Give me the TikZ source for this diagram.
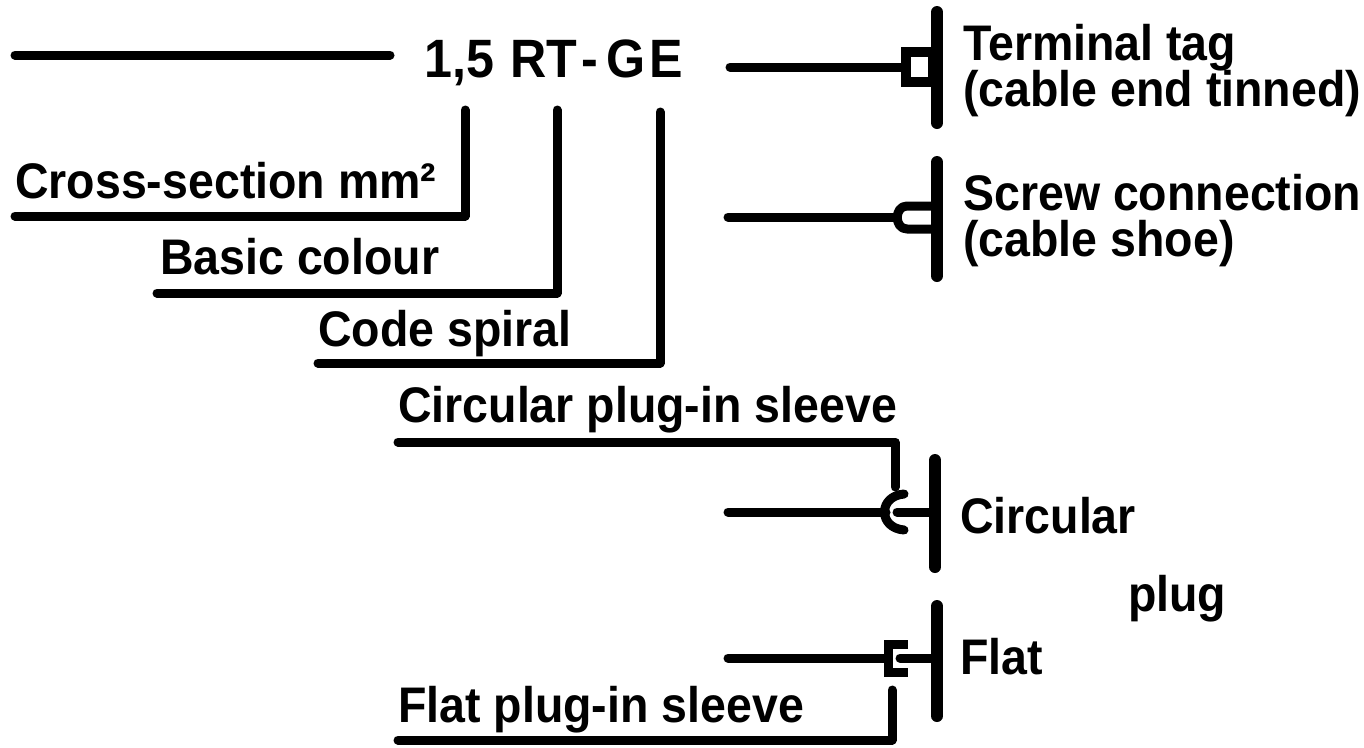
\documentclass[tikz,border=0pt]{standalone}
\usepackage{fontspec}
\setmainfont[FakeStretch=0.93]{Liberation Sans}
\begin{document}
\begin{tikzpicture}[x=1pt,y=-1pt,
  wire/.style={line width=9pt,line cap=round,line join=round},
  bar/.style={line width=12pt,line cap=round},
  lbl/.style={anchor=base west,inner sep=0pt,font=\fontsize{50}{54}\selectfont\bfseries},
  code/.style={anchor=base west,inner sep=0pt,font=\fontsize{54}{58}\selectfont\bfseries},
]
\useasboundingbox (0,0) rectangle (1364,747);

% code line
\node[code] (n15) at (424,77) {1,5};
\node[code] (rt) at (510,77) {RT};
\node[code] (dash) at (581,77) {-};
\node[code] (ge) at (606,77) {G\kern4pt E};
\coordinate (tlA) at (15,55);
\coordinate (tlB) at (390,55);
\draw[wire] (tlA) -- (tlB);

% left labels
\node[lbl] (cs) at (15,198) {Cross-section mm²};
\node[lbl] (bc) at (160,274) {Basic colour};
\node[lbl] (sp) at (318,346) {Code spiral};
\node[lbl] (cps) at (398,422) {Circular plug-in sleeve};
\node[lbl] (fps) at (398,722) {Flat plug-in sleeve};

\coordinate (csL) at (15,216);   \coordinate (csT) at (465,110);
\coordinate (bcL) at (157,293);  \coordinate (bcT) at (557,110);
\coordinate (spL) at (318,363);  \coordinate (spT) at (660,112);
\coordinate (cpL) at (398,442);  \coordinate (cpB) at (895,487);
\coordinate (fpL) at (398,740);  \coordinate (fpT) at (892,690);
\draw[wire] (csL) -| (csT);
\draw[wire] (bcL) -| (bcT);
\draw[wire] (spL) -| (spT);
\draw[wire] (cpL) -| (cpB);
\draw[wire] (fpL) -| (fpT);

% terminal tag
\coordinate (ttW) at (730,67);
\coordinate (ttS) at (905,67);
\draw[wire] (ttW) -- (ttS);
\draw[line width=10pt,line join=miter] (906,52) rectangle (933,82);
\coordinate (ttB1) at (937,12); \coordinate (ttB2) at (937,123);
\draw[bar] (ttB1) -- (ttB2);
\node[lbl] (tt1) at (963,60) {Terminal tag};
\node[lbl] (tt2) at (963,106) {(cable end tinned)};

% screw connection
\coordinate (scW) at (728,217);
\coordinate (scS) at (897,217);
\draw[wire] (scW) -- (scS);
\draw[line width=9pt,line join=round] (935,206) -- (907,206) .. controls (894,206) and (894,229) .. (907,229) -- (935,229);
\coordinate (scB1) at (937,162); \coordinate (scB2) at (937,276);
\draw[bar] (scB1) -- (scB2);
\node[lbl,text depth=0pt] (sc1) at (963,210) {Screw connection};
\node[lbl] (sc2) at (963,256) {(cable shoe)};

% circular plug
\coordinate (crW) at (728,512);
\coordinate (crS) at (886,512);
\draw[wire] (crW) -- (crS);
\draw[wire] (904,494) .. controls (878,496) and (878,528) .. (904,530);
\coordinate (crI) at (897,512); \coordinate (crJ) at (935,512);
\draw[wire] (crI) -- (crJ);
\coordinate (crB1) at (935,460); \coordinate (crB2) at (935,567);
\draw[bar] (crB1) -- (crB2);
\node[lbl] (cr1) at (960,533) {Circular};
\node[lbl] (plg) at (1128,611) {plug};

% flat plug
\coordinate (flW) at (728,658);
\coordinate (flS) at (887,658);
\draw[wire] (flW) -- (flS);
\draw[line width=9pt,line join=miter] (908,644) -- (888,644) -- (888,672) -- (908,672);
\coordinate (flI) at (900,658); \coordinate (flJ) at (935,658);
\draw[wire] (flI) -- (flJ);
\coordinate (flB1) at (937,606); \coordinate (flB2) at (937,716);
\draw[bar] (flB1) -- (flB2);
\node[lbl] (fl1) at (960,674) {Flat};
\end{tikzpicture}
\end{document}
